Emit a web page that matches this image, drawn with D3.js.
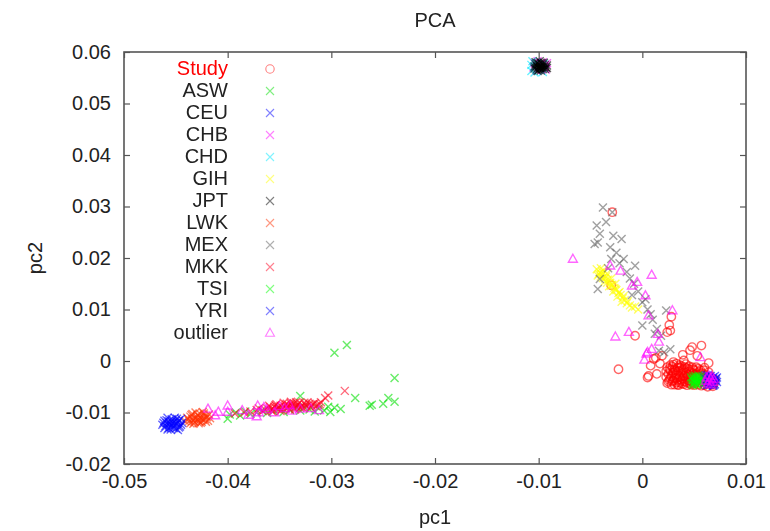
<!DOCTYPE html>
<html>
<head>
<meta charset="utf-8">
<script src="https://cdn.jsdelivr.net/npm/d3@7"></script>
<style>
  body { margin: 0; background: #fff; }
  svg { display: block; font-family: "Liberation Sans", Arial, sans-serif; }
</style>
</head>
<body>
<script>
const xTicks = [-0.05, -0.04, -0.03, -0.02, -0.01, 0, 0.01];
const yTicks = [-0.02, -0.01, 0, 0.01, 0.02, 0.03, 0.04, 0.05, 0.06];

const study = [
  [0.0024, -0.0012], [0.0027, -0.0018], [0.0025, -0.0025], [0.0023, -0.0031], [0.0026, -0.0037], [0.0024, -0.0043],
  [0.0029, -0.0011], [0.0031, -0.0016], [0.003, -0.0022], [0.0028, -0.0029], [0.0031, -0.0034], [0.0029, -0.004], [0.0031, -0.0046],
  [0.0034, -0.0013], [0.0035, -0.0019], [0.0033, -0.0025], [0.0036, -0.0031], [0.0034, -0.0037], [0.0036, -0.0042], [0.0035, -0.0047],
  [0.0038, -0.001], [0.004, -0.0016], [0.0039, -0.0023], [0.0041, -0.0028], [0.0039, -0.0034], [0.0041, -0.004], [0.004, -0.0045],
  [0.0043, -0.0014], [0.0045, -0.002], [0.0044, -0.0026], [0.0046, -0.0032], [0.0044, -0.0038], [0.0046, -0.0044],
  [0.0048, -0.0012], [0.005, -0.0018], [0.0049, -0.0024], [0.0051, -0.003], [0.0049, -0.0036], [0.0051, -0.0042], [0.005, -0.0047],
  [0.0054, -0.0015], [0.0055, -0.0021], [0.0053, -0.0027], [0.0056, -0.0034], [0.0055, -0.0041], [0.0054, -0.0046],
  [0.0059, -0.0018], [0.006, -0.0026], [0.0061, -0.0033], [0.0059, -0.004], [0.006, -0.0047],
  [0.0064, -0.0022], [0.0066, -0.0031], [0.0065, -0.0039], [0.0067, -0.0046], [0.007, -0.0036], [0.0069, -0.0044],
  [0.0026, -0.0015], [0.0032, -0.0028], [0.0037, -0.0021], [0.0042, -0.0035], [0.0047, -0.0027], [0.0052, -0.0039],
  [0.0027, -0.0034], [0.0033, -0.0042], [0.0038, -0.0039], [0.0043, -0.0047], [0.0048, -0.0041], [0.0053, -0.0024],
  [0.0045, -0.001], [0.0036, -0.0008], [0.003, -0.0007],
  [0.0023, -0.002], [0.0025, -0.004], [0.0028, -0.0046], [0.0029, -0.0025], [0.003, -0.0038], [0.0032, -0.0019],
  [0.0033, -0.0033], [0.0034, -0.0046], [0.0035, -0.0027], [0.0036, -0.0013], [0.0037, -0.0036], [0.0038, -0.0044],
  [0.0039, -0.0018], [0.004, -0.003], [0.0041, -0.0012], [0.0042, -0.0023], [0.0043, -0.0042], [0.0044, -0.0031],
  [0.0045, -0.0016], [0.0046, -0.0039], [0.0047, -0.0046], [0.0047, -0.0022], [0.0048, -0.0033], [0.0049, -0.0016],
  [0.005, -0.0044], [0.0051, -0.0026], [0.0052, -0.0012], [0.0053, -0.0034], [0.0055, -0.003], [0.0056, -0.0018],
  [0.0057, -0.0038], [0.0057, -0.0048], [0.0058, -0.0024], [0.0062, -0.0044], [0.0063, -0.005], [0.0068, -0.0049],
  [0.006, -0.0013], [0.0027, -0.0008], [0.0033, -0.0005], [0.0042, -0.0006],
  [-0.0023, -0.0016], [0.0005, -0.0032], [0.0014, -0.0025], [0.0006, -0.0029], [-0.0007, 0.0049], [0.0024, 0.0056],
  [0.0026, 0.007], [0.0028, 0.0086], [-0.0029, 0.0289], [-0.003, 0.0147], [0.0013, 0.0006], [0.0039, 0.0012],
  [0.0048, 0.0027], [0.0057, 0.003], [0.004, 0.0001], [0.0053, 0.001], [0.0064, -0.0004], [0.0011, 0.0004],
  [0.0008, -0.0009], [0.003, -0.0002], [0.0027, 0.0059], [0.0019, 0.001], [0.0017, -0.0005], [0.0046, 0.0021]
];
const asw = [
  [-0.04, -0.0112], [-0.0398, -0.0104], [-0.0392, -0.01], [-0.0388, -0.0106], [-0.0383, -0.0098], [-0.0378, -0.0103],
  [-0.0372, -0.01], [-0.0367, -0.0096], [-0.0362, -0.0101], [-0.0356, -0.0097], [-0.035, -0.0093], [-0.0346, -0.0099],
  [-0.034, -0.0095], [-0.0335, -0.0091], [-0.033, -0.0096], [-0.0326, -0.009], [-0.0321, -0.0094], [-0.0316, -0.0098],
  [-0.0312, -0.0092], [-0.0307, -0.0096], [-0.0303, -0.0089], [-0.0301, -0.0099], [-0.0297, -0.0091], [-0.0291, -0.0093],
  [-0.033, -0.0068], [-0.0297, 0.0016], [-0.0285, 0.0031], [-0.0239, -0.0033], [-0.0277, -0.0072], [-0.0261, -0.0085],
  [-0.025, -0.0083], [-0.0245, -0.0072], [-0.0239, -0.0079], [-0.0263, -0.0087]
];
const ceu = [
  [0.0059, -0.003], [0.0061, -0.0036], [0.006, -0.0043], [0.0063, -0.0027], [0.0064, -0.0033], [0.0063, -0.004],
  [0.0065, -0.0046], [0.0066, -0.0029], [0.0067, -0.0036], [0.0066, -0.0042], [0.0068, -0.0032], [0.0069, -0.0039],
  [0.007, -0.0045], [0.0071, -0.0034], [0.0072, -0.0041], [0.0062, -0.0047], [0.0068, -0.0048], [0.007, -0.0029],
  [0.0064, -0.0038], [0.0067, -0.0044], [0.006, -0.0034], [0.0062, -0.0041], [0.0065, -0.0031], [0.0066, -0.004],
  [0.0068, -0.0036], [0.0069, -0.0047], [0.0071, -0.0038], [0.0072, -0.0032], [0.0061, -0.0028], [0.0064, -0.0046]
];
const chb = [
  [-0.0104, 0.0578], [-0.0101, 0.0582], [-0.0096, 0.058], [-0.0094, 0.0572], [-0.0097, 0.0566], [-0.0102, 0.0564],
  [-0.0105, 0.057], [-0.0099, 0.0575], [-0.0093, 0.0566], [-0.01, 0.0569], [-0.0092, 0.0578]
];
const chd = [
  [-0.0107, 0.0563], [-0.0104, 0.056], [-0.0096, 0.0561], [-0.0107, 0.0575], [-0.0102, 0.0579], [-0.0095, 0.0577],
  [-0.01, 0.0572], [-0.0096, 0.0569], [-0.0103, 0.0571], [-0.0106, 0.0582]
];
const gih = [
  [-0.0044, 0.0178], [-0.0041, 0.0172], [-0.0043, 0.0166], [-0.0039, 0.0168], [-0.0037, 0.0175], [-0.0038, 0.0161],
  [-0.0035, 0.0164], [-0.0033, 0.0158], [-0.0036, 0.0155], [-0.0031, 0.0152], [-0.0029, 0.0148], [-0.0032, 0.0145],
  [-0.0027, 0.0142], [-0.0025, 0.0138], [-0.0028, 0.0135], [-0.0023, 0.0132], [-0.0021, 0.0128], [-0.0024, 0.0125],
  [-0.0019, 0.0122], [-0.0017, 0.0118], [-0.002, 0.0115], [-0.0015, 0.0112], [-0.0012, 0.0108], [-0.001, 0.0104],
  [-0.0034, 0.017], [-0.004, 0.018], [-0.003, 0.016], [-0.0026, 0.015], [-0.0004, 0.01], [-0.0007, 0.0106],
  [-0.0042, 0.0169], [-0.004, 0.0164], [-0.0036, 0.016], [-0.0034, 0.0152], [-0.003, 0.0146], [-0.0026, 0.014],
  [-0.0022, 0.0134], [-0.0018, 0.0126], [-0.0014, 0.0116], [-0.0039, 0.0174]
];
const jpt = [
  [-0.0103, 0.058], [-0.0099, 0.0582], [-0.0095, 0.0579], [-0.0092, 0.0574], [-0.0094, 0.0567], [-0.0098, 0.0564],
  [-0.0102, 0.0566], [-0.0104, 0.0572], [-0.01, 0.0576], [-0.0097, 0.0571], [-0.0101, 0.057], [-0.0096, 0.0575],
  [-0.0098, 0.0568], [-0.0093, 0.057], [-0.0103, 0.0576], [-0.01, 0.0565], [-0.0101, 0.0579], [-0.0097, 0.0578],
  [-0.0094, 0.0575], [-0.0096, 0.0567], [-0.0102, 0.0573], [-0.0099, 0.0569], [-0.0101, 0.0563], [-0.0095, 0.0571],
  [-0.0098, 0.0579], [-0.0104, 0.0568], [-0.0092, 0.0569], [-0.0099, 0.0572]
];
const lwk = [
  [-0.0439, -0.011], [-0.0437, -0.0116], [-0.0435, -0.0105], [-0.0434, -0.0113], [-0.0432, -0.0119], [-0.043, -0.0108],
  [-0.0429, -0.0114], [-0.0427, -0.0102], [-0.0426, -0.0111], [-0.0425, -0.0118], [-0.0423, -0.0106], [-0.0422, -0.0113],
  [-0.042, -0.0109], [-0.0418, -0.0104], [-0.0419, -0.0116], [-0.0431, -0.01], [-0.0436, -0.0121], [-0.0428, -0.0121],
  [-0.0441, -0.0117], [-0.0424, -0.0099], [-0.0438, -0.0113], [-0.0436, -0.0108], [-0.0433, -0.0116], [-0.0431, -0.0111],
  [-0.0429, -0.0105], [-0.0428, -0.0117], [-0.0427, -0.0109], [-0.0424, -0.0114], [-0.0423, -0.0102], [-0.0421, -0.0118],
  [-0.0421, -0.0107], [-0.0433, -0.0122], [-0.0426, -0.012], [-0.0417, -0.0111], [-0.0434, -0.0103]
];
const mex = [
  [-0.0038, 0.0298], [-0.0029, 0.0289], [-0.0044, 0.0263], [-0.0035, 0.027], [-0.0041, 0.0247], [-0.0046, 0.0227],
  [-0.0043, 0.023], [-0.0031, 0.0221], [-0.002, 0.0237], [-0.0028, 0.0243], [-0.003, 0.0198], [-0.0018, 0.0198],
  [-0.0007, 0.0185], [-0.0015, 0.0173], [-0.0043, 0.014], [-0.0041, 0.0159], [0, 0.0114], [0.0008, 0.0091],
  [0.0023, 0.0098], [0, 0.0069], [0.0014, 0.0062], [0.0018, 0.0049], [0.0021, 0.0017], [0.0027, 0.0023],
  [-0.0025, 0.021], [-0.0022, 0.019], [-0.0012, 0.016], [-0.0008, 0.015], [-0.0004, 0.0135], [0.0003, 0.012],
  [0.001, 0.008], [-0.0033, 0.018], [-0.001, 0.0128], [0.0005, 0.01], [0.0016, 0.002], [0.0012, 0.0053]
];
const mkk = [
  [-0.0393, -0.0102], [-0.0384, -0.01], [-0.0378, -0.0098], [-0.0372, -0.0095], [-0.0366, -0.0097], [-0.0362, -0.0092],
  [-0.0358, -0.0095], [-0.0355, -0.0089], [-0.0352, -0.0093], [-0.0349, -0.0087], [-0.0347, -0.0091], [-0.0344, -0.0085],
  [-0.0342, -0.009], [-0.034, -0.0094], [-0.0338, -0.0086], [-0.0336, -0.0082], [-0.0334, -0.0089], [-0.0332, -0.0084],
  [-0.033, -0.0091], [-0.0328, -0.0086], [-0.0326, -0.0081], [-0.0324, -0.0088], [-0.0321, -0.0083], [-0.0319, -0.0087],
  [-0.0316, -0.0082], [-0.0313, -0.0085], [-0.031, -0.008], [-0.0346, -0.0081], [-0.0339, -0.0079], [-0.0353, -0.0084],
  [-0.036, -0.0087], [-0.0335, -0.0094], [-0.0327, -0.0092], [-0.0306, -0.0072], [-0.0303, -0.0067], [-0.0287, -0.0058],
  [-0.037, -0.0092], [-0.0364, -0.0094], [-0.0359, -0.009], [-0.0356, -0.0093], [-0.0354, -0.0086], [-0.0351, -0.009],
  [-0.0348, -0.0094], [-0.0345, -0.0088], [-0.0343, -0.0083], [-0.0341, -0.0087], [-0.0337, -0.009], [-0.0333, -0.0086],
  [-0.0331, -0.0081], [-0.0329, -0.0089], [-0.0325, -0.0085], [-0.0323, -0.008], [-0.032, -0.009], [-0.0318, -0.0084],
  [-0.0315, -0.0088], [-0.0311, -0.0084], [-0.0357, -0.0098], [-0.0349, -0.0097], [-0.0339, -0.0083], [-0.0334, -0.008],
  [-0.0344, -0.0092]
];
const tsi = [
  [0.0047, -0.0032], [0.0049, -0.0038], [0.0048, -0.0044], [0.0051, -0.0029], [0.0052, -0.0035], [0.0051, -0.0041],
  [0.0053, -0.0046], [0.0054, -0.0032], [0.0055, -0.0039], [0.0056, -0.0044], [0.005, -0.0034], [0.0053, -0.004],
  [0.0057, -0.0035], [0.0049, -0.0047], [0.0048, -0.0036], [0.005, -0.0042], [0.0052, -0.0031], [0.0052, -0.0045],
  [0.0054, -0.0037], [0.0055, -0.0042], [0.0056, -0.0031], [0.0049, -0.003], [0.0051, -0.0038], [0.0054, -0.0028]
];
const yri = [
  [-0.0462, -0.012], [-0.046, -0.0126], [-0.0459, -0.0115], [-0.0457, -0.013], [-0.0456, -0.0121], [-0.0454, -0.0113],
  [-0.0453, -0.0126], [-0.0452, -0.0118], [-0.045, -0.0131], [-0.0449, -0.0122], [-0.0447, -0.0115], [-0.0446, -0.0127],
  [-0.0455, -0.0133], [-0.0451, -0.011], [-0.0444, -0.012], [-0.0461, -0.013], [-0.0458, -0.011], [-0.0448, -0.0134],
  [-0.0445, -0.0112], [-0.0456, -0.0124], [-0.0463, -0.0124], [-0.0459, -0.0121], [-0.0457, -0.0117], [-0.0455, -0.0128],
  [-0.0453, -0.0121], [-0.0451, -0.0125], [-0.045, -0.0116], [-0.0448, -0.0119], [-0.0447, -0.0129], [-0.0445, -0.0124],
  [-0.0458, -0.0133], [-0.0452, -0.013], [-0.0454, -0.0117], [-0.0449, -0.0112], [-0.0461, -0.0116]
];
const outlier = [
  [-0.0419, -0.0093], [-0.0409, -0.0099], [-0.04, -0.0087], [-0.04, -0.0099], [-0.0371, -0.0087], [-0.0412, -0.0106],
  [-0.0386, -0.0096], [-0.038, -0.0105], [-0.037, -0.01], [-0.0362, -0.0094], [-0.0355, -0.01], [-0.0345, -0.0092],
  [-0.0338, -0.0097], [-0.033, -0.0093], [-0.032, -0.0092], [-0.0312, -0.0096], [-0.0372, -0.0108], [-0.035, -0.0088],
  [-0.034, -0.0086], [-0.0365, -0.009],
  [-0.0067, 0.0198], [0.0009, 0.0167], [-0.0026, 0.0047], [-0.0013, 0.0056], [0.0016, 0.0037], [0.0005, 0.0017],
  [0.0002, 0.0002], [0.0015, 0.0052], [0.0029, 0.0098], [-0.0031, 0.0185], [-0.0021, 0.0175], [-0.0005, 0.0153],
  [-0.001, 0.0146], [0.0003, 0.0127], [0.0006, 0.0088], [0.0056, 0.0007], [0.0009, 0.0023], [0.0004, 0.0014],
  [0.0062, -0.0032], [0.0065, -0.0038], [0.0063, -0.0044], [0.0067, -0.003], [0.0068, -0.0041], [0.0066, -0.0046],
  [0.0064, -0.0028], [0.0061, -0.0039], [0.0069, -0.0035], [0.0066, -0.0034]
];

const groups = [
  { name: "Study", color: "#ff0000", shape: "circle", points: study },
  { name: "ASW", color: "#00e000", shape: "cross", points: asw },
  { name: "CEU", color: "#0000ff", shape: "cross", points: ceu },
  { name: "CHB", color: "#ff00ff", shape: "cross", points: chb },
  { name: "CHD", color: "#00e8ff", shape: "cross", points: chd },
  { name: "GIH", color: "#ffff00", shape: "cross", points: gih },
  { name: "JPT", color: "#000000", shape: "cross", points: jpt },
  { name: "LWK", color: "#ff3000", shape: "cross", points: lwk },
  { name: "MEX", color: "#606060", shape: "cross", points: mex },
  { name: "MKK", color: "#ff0020", shape: "cross", points: mkk },
  { name: "TSI", color: "#00ff00", shape: "cross", points: tsi },
  { name: "YRI", color: "#0000ff", shape: "cross", points: yri },
  { name: "outlier", color: "#ff00ff", shape: "triangle", points: outlier },
];

const width = 770;
const height = 531;
const margin = { top: 52, right: 24, bottom: 67, left: 124 };

const xScale = d3
  .scaleLinear()
  .domain([-0.05, 0.01])
  .range([margin.left, width - margin.right]);
const yScale = d3
  .scaleLinear()
  .domain([-0.02, 0.06])
  .range([height - margin.bottom, margin.top]);

const tickLabel = (d) => d3.format("~g")(d).replace("−", "-");

// marker path for one point, centred on 0 0
const shapePath = (shape) => {
  if (shape === "circle") return "M -4.2 0 A 4.2 4.2 0 1 0 4.2 0 A 4.2 4.2 0 1 0 -4.2 0 Z";
  if (shape === "triangle") return "M 0 -4.8 L 4.5 3.2 L -4.5 3.2 Z";
  return "M -4 -4 L 4 4 M -4 4 L 4 -4";
};

const svg = d3
  .select("body")
  .append("svg")
  .attr("width", width)
  .attr("height", height);

// a touch of softening, like the scanned original
svg
  .append("defs")
  .append("filter")
  .attr("id", "soft")
  .append("feGaussianBlur")
  .attr("stdDeviation", 0.45);

const frameColor = "#555";
const textColor = "#222";

// data
const dataGroup = svg.append("g").attr("filter", "url(#soft)");
groups.forEach((g) => {
  dataGroup
    .append("g")
    .selectAll("path")
    .data(g.points)
    .enter()
    .append("path")
    .attr("d", shapePath(g.shape))
    .attr("transform", (d) => `translate(${xScale(d[0])} ${yScale(d[1])})`)
    .attr("fill", "none")
    .attr("stroke", g.color)
    .attr("stroke-width", 1.4)
    .attr("stroke-opacity", 0.6);
});

// axes with inward ticks, mirrored on the opposite side
const x0 = margin.left;
const x1 = width - margin.right;
const y0 = height - margin.bottom;
const y1 = margin.top;

const styleAxis = (g) => {
  g.select(".domain").remove();
  g.selectAll(".tick line").attr("stroke", frameColor).attr("stroke-width", 1.2);
  g.selectAll(".tick text")
    .attr("fill", textColor)
    .attr("font-size", 20)
    .attr("font-family", "Liberation Sans, Arial, sans-serif");
};

svg
  .append("g")
  .attr("transform", `translate(0 ${y0})`)
  .call(d3.axisBottom(xScale).tickValues(xTicks).tickSize(-6).tickPadding(10).tickFormat(tickLabel))
  .call(styleAxis);
svg
  .append("g")
  .attr("transform", `translate(0 ${y1})`)
  .call(d3.axisTop(xScale).tickValues(xTicks).tickSize(-6).tickFormat(() => ""))
  .call(styleAxis);
svg
  .append("g")
  .attr("transform", `translate(${x0} 0)`)
  .call(d3.axisLeft(yScale).tickValues(yTicks).tickSize(-6).tickPadding(13).tickFormat(tickLabel))
  .call(styleAxis);
svg
  .append("g")
  .attr("transform", `translate(${x1} 0)`)
  .call(d3.axisRight(yScale).tickValues(yTicks).tickSize(-6).tickFormat(() => ""))
  .call(styleAxis);

svg
  .append("rect")
  .attr("x", x0)
  .attr("y", y1)
  .attr("width", x1 - x0)
  .attr("height", y0 - y1)
  .attr("fill", "none")
  .attr("stroke", frameColor)
  .attr("stroke-width", 1.6);

// legend
const legend = svg
  .append("g")
  .selectAll("g")
  .data(groups)
  .enter()
  .append("g")
  .attr("transform", (_, i) => `translate(0 ${68 + i * 22})`);

legend
  .append("text")
  .attr("x", 228)
  .attr("y", 0)
  .attr("dy", "0.35em")
  .attr("text-anchor", "end")
  .attr("font-size", 20)
  .attr("fill", (d) => (d.name === "Study" ? "#ff0000" : textColor))
  .text((d) => d.name);

legend
  .append("path")
  .attr("transform", "translate(270 1)")
  .attr("d", (d) => shapePath(d.shape))
  .attr("fill", "none")
  .attr("stroke", (d) => d.color)
  .attr("stroke-width", 1.1)
  .attr("stroke-opacity", 0.5);

// titles
svg
  .append("text")
  .attr("x", (x0 + x1) / 2)
  .attr("y", 27)
  .attr("text-anchor", "middle")
  .attr("font-size", 20)
  .attr("fill", textColor)
  .text("PCA");

svg
  .append("text")
  .attr("x", (x0 + x1) / 2)
  .attr("y", 524)
  .attr("text-anchor", "middle")
  .attr("font-size", 20)
  .attr("fill", textColor)
  .text("pc1");

svg
  .append("text")
  .attr("transform", `translate(42 ${(y0 + y1) / 2}) rotate(-90)`)
  .attr("text-anchor", "middle")
  .attr("font-size", 20)
  .attr("fill", textColor)
  .text("pc2");
</script>
</body>
</html>
